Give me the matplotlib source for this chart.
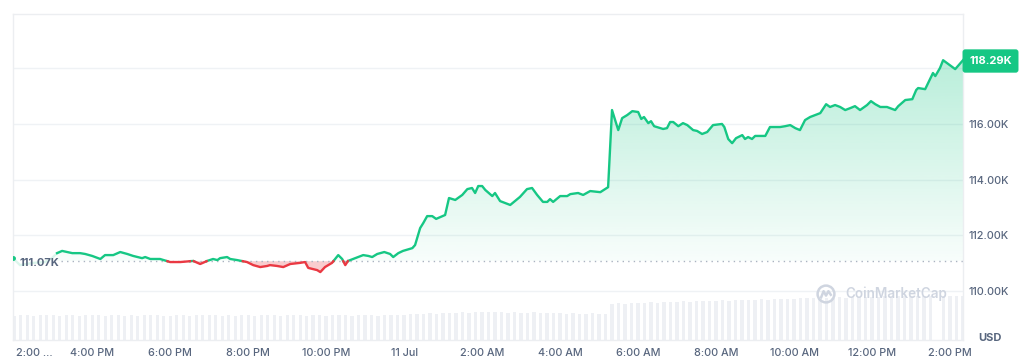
import numpy as np
import matplotlib
matplotlib.use("Agg")
import matplotlib.pyplot as plt
from matplotlib.patches import Circle

plt.rcParams["font.family"] = ["Inter", "DejaVu Sans"]

GREEN = "#16c784"
RED = "#ea3943"
TXT = "#58667e"
GRID = "#eff2f5"

BASE_PRICE = 111.07   # open price of the 24h window (dotted line)
LAST_PRICE = 118.29
FADE_UNTIL = 1.10     # first part of the line is drawn faded

# hours since 2:00 PM (10 Jul) and BTC price in thousands USD
hours = [
    -0.03, 0.15, 0.49, 0.79, 0.97, 1.10, 1.23, 1.36, 1.49, 1.69,
    1.82, 2.00, 2.21, 2.33, 2.54, 2.72, 2.90, 3.05, 3.28, 3.36,
    3.49, 3.74, 4.00, 4.26, 4.59, 4.77, 4.95, 5.10, 5.21, 5.28,
    5.46, 5.54, 5.72, 5.97, 6.13, 6.31, 6.49, 6.56, 6.74, 6.90,
    7.08, 7.33, 7.46, 7.54, 7.77, 7.85, 7.97, 8.15, 8.31, 8.41,
    8.49, 8.56, 8.69, 8.82, 8.95, 9.08, 9.18, 9.31, 9.49, 9.64,
    9.72, 9.85, 9.97, 10.21, 10.28, 10.41, 10.49, 10.59, 10.72, 10.82,
    11.05, 11.15, 11.31, 11.49, 11.62, 11.74, 11.82, 11.90, 12.00, 12.08,
    12.26, 12.33, 12.46, 12.59, 12.72, 12.97, 13.15, 13.28, 13.41, 13.56,
    13.67, 13.74, 13.82, 14.00, 14.18, 14.26, 14.46, 14.59, 14.77, 15.03,
    15.23, 15.33, 15.49, 15.59, 15.72, 15.85, 16.00, 16.08, 16.15, 16.26,
    16.33, 16.41, 16.64, 16.74, 16.82, 16.90, 17.03, 17.15, 17.26, 17.41,
    17.51, 17.64, 17.77, 17.92, 18.15, 18.21, 18.31, 18.41, 18.51, 18.67,
    18.74, 18.82, 18.92, 19.00, 19.26, 19.38, 19.64, 19.77, 19.90, 20.03,
    20.15, 20.28, 20.41, 20.54, 20.67, 20.82, 20.92, 21.05, 21.18, 21.31,
    21.44, 21.56, 21.69, 21.87, 21.97, 22.08, 22.21, 22.38, 22.59, 22.67,
    22.85, 23.03, 23.13, 23.18, 23.36, 23.56, 23.62, 23.74, 23.82, 24.13,
    24.33,
]
price = [
    111.18, 110.93, 111.01, 111.04, 111.18, 111.36, 111.44, 111.40, 111.36, 111.36,
    111.33, 111.26, 111.15, 111.29, 111.29, 111.40, 111.33, 111.26, 111.18, 111.22,
    111.15, 111.15, 111.04, 111.04, 111.08, 110.97, 111.08, 111.15, 111.11, 111.18,
    111.22, 111.15, 111.11, 111.04, 110.93, 110.86, 110.90, 110.93, 110.90, 110.86,
    110.97, 111.01, 111.04, 110.83, 110.75, 110.68, 110.86, 111.01, 111.29, 111.15,
    110.93, 111.08, 111.15, 111.22, 111.29, 111.26, 111.22, 111.33, 111.40, 111.33,
    111.22, 111.36, 111.44, 111.54, 111.65, 112.26, 112.44, 112.69, 112.69, 112.59,
    112.73, 113.34, 113.27, 113.45, 113.66, 113.70, 113.52, 113.77, 113.77, 113.63,
    113.41, 113.52, 113.23, 113.16, 113.09, 113.38, 113.66, 113.70, 113.45, 113.20,
    113.20, 113.30, 113.20, 113.41, 113.41, 113.48, 113.52, 113.45, 113.59, 113.55,
    113.73, 116.50, 115.78, 116.21, 116.32, 116.46, 116.43, 116.18, 116.25, 116.03,
    116.10, 115.92, 115.82, 115.85, 116.07, 116.07, 115.92, 116.03, 115.96, 115.78,
    115.75, 115.64, 115.71, 115.96, 116.00, 115.89, 115.46, 115.31, 115.49, 115.60,
    115.46, 115.53, 115.46, 115.57, 115.57, 115.89, 115.89, 115.92, 115.96, 115.85,
    115.78, 116.14, 116.25, 116.32, 116.39, 116.71, 116.61, 116.68, 116.61, 116.50,
    116.57, 116.64, 116.50, 116.68, 116.82, 116.71, 116.61, 116.61, 116.50, 116.64,
    116.86, 116.89, 117.22, 117.29, 117.25, 117.83, 117.72, 118.01, 118.29, 117.97,
    LAST_PRICE,
]

# relative traded volume, one bar per 10 minutes (read as bar height)
volume = [
    24, 25, 25, 24, 25, 25,   25, 24, 25, 25, 24, 25,
    25, 25, 24, 25, 25, 24,   25, 24, 25, 25, 25, 24,
    24, 25, 25, 24, 25, 25,   25, 25, 24, 25, 24, 25,
    25, 24, 25, 25, 25, 24,   25, 25, 25, 24, 25, 25,
    24, 25, 25, 25, 24, 25,   25, 25, 24, 25, 25, 25,
    25, 26, 26, 26, 27, 26,   27, 27, 27, 28, 27, 28,
    28, 28, 28, 28, 27, 28,   27, 27, 28, 27, 27, 27,
    27, 26, 27, 26, 26, 27,   26, 26, 36, 37, 36, 37,
    37, 37, 38, 37, 38, 38,   38, 39, 38, 39, 39, 39,
    39, 40, 39, 40, 40, 40,   40, 41, 40, 41, 41, 41,
    41, 42, 42, 42, 42, 42,   42, 43, 42, 43, 43, 43,
    43, 43, 44, 43, 44, 44,   44, 44, 44, 44, 0, 44,
    44, 44, 44,
]

tick_hours = [2, 4, 6, 8, 10, 12, 14, 16, 18, 20, 22, 24]
tick_labels = ["4:00 PM", "6:00 PM", "8:00 PM", "10:00 PM", "11 Jul", "2:00 AM",
               "4:00 AM", "6:00 AM", "8:00 AM", "10:00 AM", "12:00 PM", "2:00 PM"]
price_ticks = [110, 112, 114, 116, 118]

W, H = 1024, 359
rect = [13 / W, 1 - 340 / H, 950 / W, 326 / H]
XLIM = (-0.03, 24.33)

fig = plt.figure(figsize=(W / 100, H / 100), dpi=100)

# volume strip underneath
ax_vol = fig.add_axes(rect)
vol_x = np.arange(len(volume)) / 6.0
ax_vol.bar(vol_x, volume, width=0.085, color="#eef0f4", linewidth=0)
ax_vol.set_xlim(*XLIM)
ax_vol.set_ylim(0, 326)
ax_vol.axis("off")

ax = fig.add_axes(rect)
ax.patch.set_visible(False)

h = np.array(hours)
p = np.array(price)

# faded start of the series
fade = h <= FADE_UNTIL
ax.plot(h[fade], p[fade], color=GREEN, alpha=0.15, lw=1.7, zorder=3)
ax.plot(h[0], p[0], "o", ms=2.5, color=GREEN, zorder=3)

# insert crossings with the baseline so the colour switches exactly there
hb, pb = h[h >= FADE_UNTIL], p[h >= FADE_UNTIL]
xs, ys = [hb[0]], [pb[0]]
for i in range(1, len(hb)):
    a, b = pb[i - 1] - BASE_PRICE, pb[i] - BASE_PRICE
    if a * b < 0:
        t = a / (a - b)
        xs.append(hb[i - 1] + t * (hb[i] - hb[i - 1]))
        ys.append(BASE_PRICE)
    xs.append(hb[i])
    ys.append(pb[i])
xs, ys = np.array(xs), np.array(ys)

# red area below the open price
ax.fill_between(xs, ys, BASE_PRICE, where=ys <= BASE_PRICE, color=RED,
                alpha=0.25, lw=0, zorder=1.5)

# green gradient area above the open price
poly = ax.fill_between(xs, np.maximum(ys, BASE_PRICE), BASE_PRICE,
                       color="none", lw=0)
n = 256
grad = np.zeros((n, 1, 4))
grad[:, 0, :3] = matplotlib.colors.to_rgb(GREEN)
grad[:, 0, 3] = np.linspace(0.03, 0.30, n)
img = ax.imshow(grad, extent=[xs[0], xs[-1], BASE_PRICE, ys.max()],
                aspect="auto", origin="lower", zorder=1.5)
img.set_clip_path(poly.get_paths()[0], transform=ax.transData)

ax.plot(xs, np.where(ys >= BASE_PRICE, ys, np.nan), color=GREEN, lw=1.7,
        solid_joinstyle="round", zorder=3)
ax.plot(xs, np.where(ys <= BASE_PRICE, ys, np.nan), color=RED, lw=1.7,
        solid_joinstyle="round", zorder=3)

# dotted open-price line
ax.axhline(BASE_PRICE, xmin=0.05, xmax=1, color="#aab3c1", lw=1,
           linestyle=(0, (1, 3)), zorder=2.5)

ax.set_xlim(*XLIM)
ax.set_ylim(108.24, 119.95)
ax.set_yticks(price_ticks)
ax.set_yticklabels([f"{v:.2f}K" if v != 118 else "" for v in price_ticks])
ax.yaxis.tick_right()
ax.set_xticks(tick_hours)
ax.set_xticklabels(tick_labels)
ax.tick_params(length=0, labelsize=7.8, labelcolor=TXT)
ax.tick_params(axis="y", pad=4)
ax.tick_params(axis="x", pad=6)
for lab in ax.get_xticklabels() + ax.get_yticklabels():
    lab.set_fontweight("medium")
ax.grid(axis="y", color=GRID, lw=1, zorder=0)
ax.set_axisbelow(True)
for s in ax.spines.values():
    s.set_color("#eceef1")
    s.set_linewidth(1)

# texts placed in pixels
fig.text(16 / W, 1 - 353 / H, "2:00 ...", ha="left", va="center",
         fontsize=7.8, color=TXT, fontweight="medium")
fig.text(20 / W, 1 - 263 / H, f"{BASE_PRICE:.2f}K", ha="left", va="center",
         fontsize=8, color=TXT, fontweight="bold")
fig.text(990.5 / W, 1 - 61 / H, f"{LAST_PRICE:.2f}K", ha="center", va="center",
         fontsize=8, color="white", fontweight="bold",
         bbox=dict(boxstyle="round,pad=0.6,rounding_size=0.25", fc=GREEN, ec="none"))
fig.text(978 / W, 1 - 338 / H, "USD", ha="left", va="center",
         fontsize=8, color=TXT, fontweight="bold")

# watermark
WM = "#cfd5e0"
fig.text(845 / W, 1 - 294 / H, "CoinMarketCap", ha="left", va="center",
         fontsize=9.7, color=WM, fontweight="semibold")
logo = fig.add_axes([816 / W, 1 - 304 / H, 20 / W, 20 / H])
logo.set_aspect("equal")
logo.set_xlim(0, 1)
logo.set_ylim(0, 1)
logo.axis("off")
logo.add_patch(Circle((0.5, 0.5), 0.42, fill=False, ec=WM, lw=1.8))
logo.plot([0.26, 0.38, 0.5, 0.62, 0.74], [0.34, 0.64, 0.42, 0.64, 0.46],
          color=WM, lw=1.8, solid_joinstyle="round")

fig.savefig("out.png", dpi=100, facecolor="white")
